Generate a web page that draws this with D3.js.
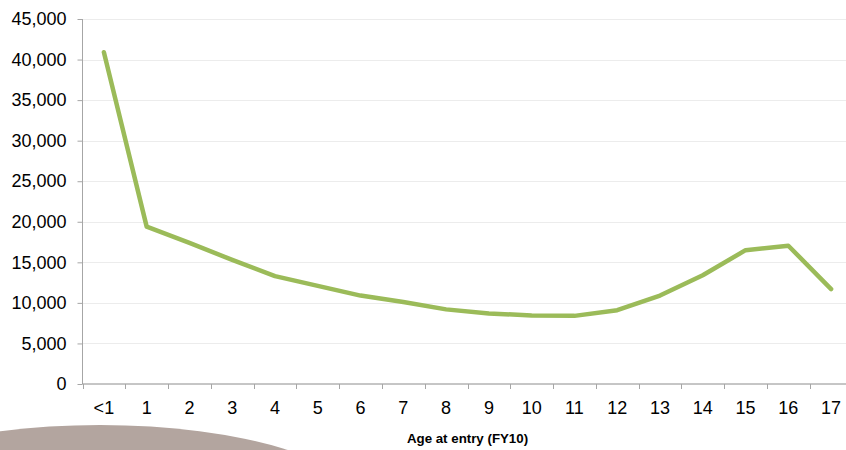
<!DOCTYPE html>
<html>
<head>
<meta charset="utf-8">
<script src="https://cdn.jsdelivr.net/npm/d3@7"></script>
<style>
  html, body { margin: 0; padding: 0; background: #fff; }
  svg { display: block; }
</style>
</head>
<body>
<svg id="chart" width="846" height="450"></svg>
<script>
const categories = ["<1","1","2","3","4","5","6","7","8","9","10","11","12","13","14","15","16","17"];
const values = [40900, 19400, 17400, 15300, 13300, 12100, 10900, 10100, 9200, 8700, 8450, 8400, 9100, 10900, 13400, 16500, 17050, 11700];
const yTicks = [0, 5000, 10000, 15000, 20000, 25000, 30000, 35000, 40000, 45000];
const xTitle = "Age at entry (FY10)";

(function () {
const svg = d3.select("#chart");
const W = 846, H = 450;
const mLeft = 82.5, mRight = 852.5, mTop = 19, mBottom = 384;

// decorative arc
svg.append("ellipse")
  .attr("cx", 100).attr("cy", 506).attr("rx", 260).attr("ry", 81)
  .attr("fill", "#b3a59f");

const x = d3.scaleBand().domain(categories).range([mLeft, mRight]);
const y = d3.scaleLinear().domain([0, 45000]).range([mBottom, mTop]);

// gridlines
svg.append("g").selectAll("line").data(yTicks.filter(d => d > 0)).join("line")
  .attr("x1", mLeft).attr("x2", W)
  .attr("y1", d => Math.round(y(d)) + 0.5).attr("y2", d => Math.round(y(d)) + 0.5)
  .attr("stroke", "#ececec").attr("stroke-width", 1);

// y axis
const yAxis = svg.append("g").attr("transform", `translate(${mLeft},0)`)
  .call(d3.axisLeft(y).tickValues(yTicks).tickSize(5).tickPadding(11).tickFormat(d3.format(",")));
yAxis.select(".domain").attr("stroke", "#a6a6a6").attr("d", `M0,${mTop}V${mBottom}`);
yAxis.selectAll(".tick line").attr("stroke", "#a6a6a6");
yAxis.selectAll(".tick text").attr("font-family", "Liberation Sans, Arial, sans-serif")
  .attr("font-size", 18).attr("fill", "#000");

// x axis
const xAxis = svg.append("g").attr("transform", `translate(0,${mBottom})`)
  .call(d3.axisBottom(x).tickSize(0).tickPadding(17));
xAxis.select(".domain").attr("stroke", "#8c8c8c").attr("d", `M${mLeft},0H${W}`);
xAxis.selectAll(".tick text").attr("font-family", "Liberation Sans, Arial, sans-serif")
  .attr("font-size", 18).attr("fill", "#000").attr("dy", "0.71em");
// band boundary ticks
const bounds = categories.map(c => x(c)).concat([x(categories[categories.length - 1]) + x.bandwidth()]);
xAxis.append("g").selectAll("line").data(bounds).join("line")
  .attr("x1", d => Math.round(d) + 0.5).attr("x2", d => Math.round(d) + 0.5)
  .attr("y1", 0).attr("y2", 5)
  .attr("stroke", "#a6a6a6");

// line
const line = d3.line()
  .x((d, i) => x(categories[i]) + x.bandwidth() / 2)
  .y(d => y(d));
svg.append("path").datum(values)
  .attr("d", line)
  .attr("fill", "none")
  .attr("stroke", "#9bbb59")
  .attr("stroke-width", 4.5)
  .attr("stroke-linejoin", "round")
  .attr("stroke-linecap", "round");

// x title
svg.append("text")
  .attr("x", 467.5).attr("y", 443)
  .attr("text-anchor", "middle")
  .attr("font-family", "Liberation Sans, Arial, sans-serif")
  .attr("font-size", 13.3).attr("font-weight", "bold")
  .text(xTitle);
})();
</script>
</body>
</html>
